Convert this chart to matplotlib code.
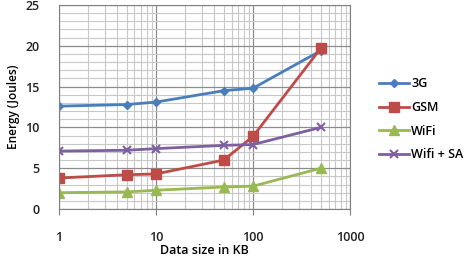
import matplotlib
matplotlib.use("Agg")
import matplotlib.pyplot as plt
from matplotlib.ticker import LogLocator, NullFormatter, MultipleLocator

# data
sizes = [1, 5, 10, 50, 100, 500]
energy_3g = [12.6, 12.8, 13.1, 14.5, 14.8, 19.4]
energy_gsm = [3.8, 4.2, 4.3, 6.0, 8.9, 19.7]
energy_wifi = [2.0, 2.1, 2.3, 2.7, 2.8, 5.0]
energy_wifi_sa = [7.1, 7.2, 7.4, 7.8, 7.9, 10.0]

plt.rcParams['font.family'] = ['Open Sans', 'DejaVu Sans']

fig = plt.figure(figsize=(4.68, 2.60), dpi=100)
ax = fig.add_axes([0.126, 0.196, 0.622, 0.785])

ax.plot(sizes, energy_3g, color='#4A7EBB', marker='D', markersize=4.5, lw=2, label='3G')
ax.plot(sizes, energy_gsm, color='#BE4B48', marker='s', markersize=7, lw=2, label='GSM')
ax.plot(sizes, energy_wifi, color='#98B954', marker='^', markersize=7, lw=2, label='WiFi')
ax.plot(sizes, energy_wifi_sa, color='#7D60A0', marker='x', markersize=6, mew=1.5, lw=2, label='Wifi + SA')

ax.set_xscale('log')
ax.set_xlim(1, 1000)
ax.set_ylim(0, 25)
ax.yaxis.set_major_locator(MultipleLocator(5))
ax.yaxis.set_minor_locator(MultipleLocator(1))
ax.xaxis.set_major_locator(LogLocator(base=10))
ax.xaxis.set_minor_locator(LogLocator(base=10, subs=range(2, 10)))
ax.xaxis.set_minor_formatter(NullFormatter())
ax.set_xticks([1, 10, 100, 1000])
ax.set_xticklabels(['1', '10', '100', '1000'])

ax.grid(True, which='major', color='#8c8c8c', lw=0.9)
ax.grid(True, which='minor', color='#c8c8c8', lw=0.8)
ax.set_axisbelow(True)
for s in ax.spines.values():
    s.set_color('#808080')

ax.tick_params(axis='x', which='major', direction='out', length=4, pad=12, labelsize=9, colors='#808080', labelcolor='#222222')
ax.tick_params(axis='x', which='minor', length=0)
ax.tick_params(axis='y', which='both', length=0, pad=14, labelsize=9, labelcolor='#222222')
for lab in ax.get_xticklabels() + ax.get_yticklabels():
    lab.set_fontweight('semibold')

ax.set_xlabel('Data size in KB', fontsize=9, fontweight='semibold', labelpad=0)
ax.set_ylabel('Energy (Joules)', fontsize=8.5, fontweight='semibold', labelpad=4)

leg = ax.legend(loc='center left', bbox_to_anchor=(1.06, 0.44), frameon=False,
                fontsize=9, handlelength=2.4, labelspacing=0.85, handletextpad=0.2)
for t in leg.get_texts():
    t.set_fontweight('semibold')

fig.savefig('out.png', dpi=100)
